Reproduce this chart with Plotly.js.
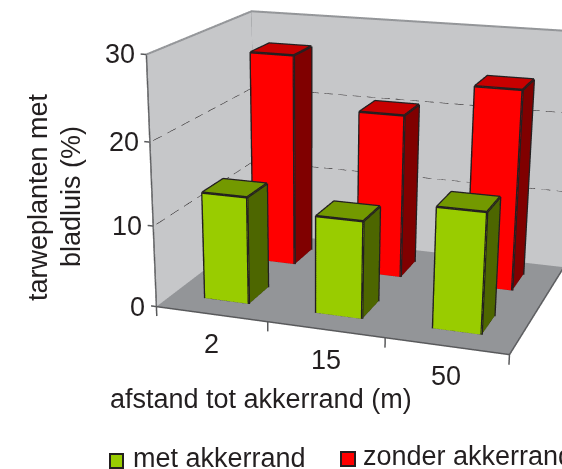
<!DOCTYPE html>
<html><head><meta charset="utf-8">
<script src="https://cdn.plot.ly/plotly-3.0.1.min.js"></script>
<style>html,body{margin:0;padding:0;width:562px;height:469px;overflow:hidden;background:#fff}
#chart{position:absolute;left:-295px;top:-301px;width:1210px;height:1210px}</style>
</head><body><div id="chart"></div>
<script>
const categories = ['2','15','50'];
const seriesNames = ['met akkerrand','zonder akkerrand'];
const metAkkerrand = [13.2,11.85,14.45];
const zonderAkkerrand = [26.9,20.6,24.8];
const yTicks = [0,10,20,30];
const gridValues = [10,20];
const zMax = 30;
const barW = 0.4;
const colours = [{front:'#99cc00',top:'#739900',side:'#4d6600'},{front:'#ff0000',top:'#c80000',side:'#800000'}];
const ink = '#231f20';
const size = 1210, offX = 295, offY = 301;
const px = x => (x+offX)/size, py = y => 1-(y+offY)/size;

function bar(cat,row,val,c){
  const x0=cat+0.5-barW/2,x1=cat+0.5+barW/2,y0=row+0.5-barW/2,y1=row+0.5+barW/2;
  const X=[x0,x1,x1,x0,x0,x1,x1,x0],Y=[y0,y0,y1,y1,y0,y0,y1,y1],Z=[0,0,0,0,val,val,val,val];
  const quads=[[0,1,5,4,c.front],[1,2,6,5,c.side],[4,5,6,7,c.top],[2,3,7,6,c.side],[3,0,4,7,c.side],[0,1,2,3,c.side]];
  const i=[],j=[],k=[],fc=[];
  quads.forEach(q=>{i.push(q[0],q[0]);j.push(q[1],q[2]);k.push(q[2],q[3]);fc.push(q[4],q[4]);});
  const flat={ambient:1,diffuse:0,specular:0,roughness:1,fresnel:0};
  const mesh={type:'mesh3d',x:X,y:Y,z:Z,i,j,k,facecolor:fc,flatshading:true,lighting:flat,hoverinfo:'skip',showscale:false};
  const path=[0,1,2,3,0,4,5,6,7,4,null,1,5,null,2,6,null,3,7];
  const line={type:'scatter3d',mode:'lines',x:path.map(p=>p===null?null:X[p]),y:path.map(p=>p===null?null:Y[p]),z:path.map(p=>p===null?null:Z[p]),
    line:{color:ink,width:5},hoverinfo:'skip',showlegend:false};
  return [mesh,line];
}
function walls(){
  const n=categories.length,d=seriesNames.length;
  const X=[0,n,n,0,0,n,n,0],Y=[0,0,d,d,0,0,d,d],Z=[0,0,0,0,zMax,zMax,zMax,zMax];
  const wall='#c6c7c9',floor='#939598';
  return {type:'mesh3d',x:X,y:Y,z:Z,i:[0,0,3,3,0,0],j:[1,2,2,6,3,7],k:[2,3,6,7,7,4],
    facecolor:[floor,floor,wall,wall,wall,wall],flatshading:true,
    lighting:{ambient:1,diffuse:0,specular:0,roughness:1,fresnel:0},hoverinfo:'skip',showscale:false};
}
function seg(pts,color,width){
  return {type:'scatter3d',mode:'lines',x:pts.map(p=>p?p[0]:null),y:pts.map(p=>p?p[1]:null),z:pts.map(p=>p?p[2]:null),
    line:{color,width},hoverinfo:'skip',showlegend:false};
}
function dashed(a,b,periods){
  const out=[],at=t=>a.map((v,i)=>v+(b[i]-v)*t);
  for(let p=0;p<periods;p++){out.push(at((p+0.2)/periods),at((p+0.8)/periods),null);}
  return out;
}
const n=categories.length,d=seriesNames.length;
const traces=[walls()];
gridValues.forEach(v=>{
  traces.push(seg(dashed([0,0,v],[0,d,v],8).concat(dashed([0,d,v],[n,d,v],22)),ink,2));
});
traces.push(seg([[0,0,zMax],[0,d,zMax],[n,d,zMax]],'#939598',4));
traces.push(seg([[0,d,zMax],[0,d,0]],'#939598',4));
traces.push(seg([[0,0,zMax],[0,0,0],[n,0,0],[n,d,0]],'#58595b',3));
yTicks.forEach(v=>traces.push(seg([[0,0,v],[-0.05,0,v]],'#58595b',3)));
for(let c=0;c<=n;c++) traces.push(seg([[c,0,0],[c,0,-1.2]],'#58595b',3));
[metAkkerrand,zonderAkkerrand].forEach((vals,r)=>vals.forEach((v,c)=>bar(c,r,v,colours[r]).forEach(t=>traces.push(t))));

const tickFont={family:'"Liberation Sans",Arial,sans-serif',size:27,color:ink};
const sceneAnn=[];
yTicks.forEach(v=>sceneAnn.push({x:0,y:0,z:v,text:String(v),showarrow:false,xanchor:'right',yanchor:'middle',xshift:-9,font:tickFont}));
categories.forEach((c,i)=>sceneAnn.push({x:i+0.5,y:0,z:0,text:c,showarrow:false,xanchor:'center',yanchor:'middle',yshift:-30,font:tickFont}));
const textFont={family:'"Liberation Sans",Arial,sans-serif',size:27,color:ink};
const annotations=[
 {xref:'paper',yref:'paper',x:px(261),y:py(399),text:'afstand tot akkerrand (m)',showarrow:false,xanchor:'center',yanchor:'middle',font:textFont},
 {xref:'paper',yref:'paper',x:px(38),y:py(197),text:'tarweplanten met',textangle:-90,showarrow:false,xanchor:'center',yanchor:'middle',font:textFont},
 {xref:'paper',yref:'paper',x:px(71),y:py(197),text:'bladluis (%)',textangle:-90,showarrow:false,xanchor:'center',yanchor:'middle',font:textFont},
 {xref:'paper',yref:'paper',x:px(131),y:py(458),text:seriesNames[0],showarrow:false,xanchor:'left',yanchor:'middle',font:textFont},
 {xref:'paper',yref:'paper',x:px(361),y:py(456),text:seriesNames[1],showarrow:false,xanchor:'left',yanchor:'middle',font:textFont}
];
const rect=(x0,y0,x1,y1,fill)=>({type:'rect',xref:'paper',yref:'paper',x0:px(x0),x1:px(x1),y0:py(y0),y1:py(y1),fillcolor:fill,line:{color:ink,width:2}});
const shapes=[rect(110,454,123,468,colours[0].front),rect(341,452,355,466,colours[1].front)];
const hidden={visible:false,showspikes:false};
const layout={width:size,height:size,margin:{l:0,r:0,t:0,b:0},paper_bgcolor:'#fff',showlegend:false,annotations,shapes,
 scene:{domain:{x:[0,1],y:[0,1]},bgcolor:'#fff',aspectmode:'manual',aspectratio:{x:1.74,y:1.361,z:1.158},
  xaxis:Object.assign({range:[-0.3,3.3]},hidden),yaxis:Object.assign({range:[-0.3,2.3]},hidden),zaxis:Object.assign({range:[-2,32]},hidden),
  camera:{projection:{type:'perspective'},up:{x:0,y:0,z:1},eye:{x:1.760,y:-5.478,z:1.586},center:{x:-0.152,y:-0.286,z:-0.509}},
  annotations:sceneAnn}};
Plotly.newPlot('chart',traces,layout,{displayModeBar:false});
</script></body></html>
